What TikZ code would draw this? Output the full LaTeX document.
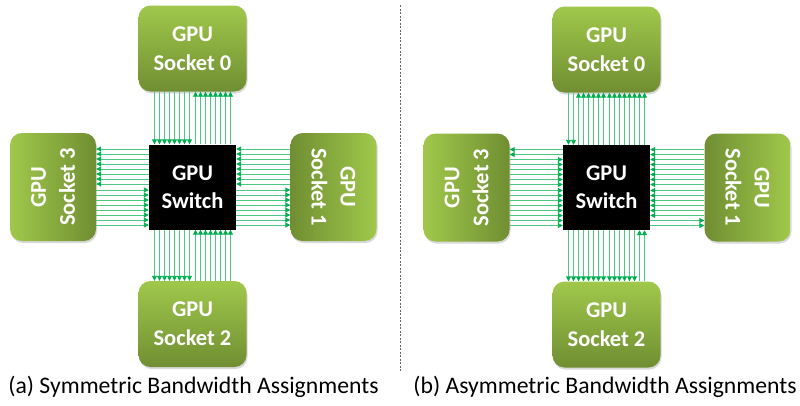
\documentclass[tikz,border=0pt]{standalone}
\usepackage{fontspec}
\setmainfont{Carlito}
\usetikzlibrary{arrows.meta,shadows}
\definecolor{socktop}{RGB}{160,200,75}
\definecolor{sockbot}{RGB}{112,142,50}
\definecolor{linkgreen}{RGB}{0,176,80}
\tikzset{
  socket/.style={rounded corners=12pt, top color=socktop, bottom color=sockbot,
    text=white, font=\fontsize{22.5}{29}\selectfont\bfseries, align=center,
    minimum width=108pt, minimum height=86pt, inner sep=0pt,
    drop shadow={shadow xshift=1pt, shadow yshift=-2pt, opacity=0.3}},
  lsocket/.style={socket, rotate=90, left color=socktop, right color=sockbot},
  rsocket/.style={socket, rotate=-90, left color=sockbot, right color=socktop},
  gpuswitch/.style={fill=black, text=white, font=\fontsize{22.5}{28}\selectfont\bfseries,
    align=center, minimum width=87pt, minimum height=85pt, inner sep=0pt},
  link/.style={draw=linkgreen!70, line width=0.9pt,
    -{Triangle[length=5pt,width=5pt,color=linkgreen,fill=linkgreen]}},
  caption/.style={font=\fontsize{23.7}{27}\selectfont}
}
\begin{document}
\begin{tikzpicture}[x=1pt,y=-1pt]
\useasboundingbox (0,0) rectangle (800,405);
\node[socket] (a0) at (192.5,48.5) {GPU\\Socket 0};
\node[lsocket] (a3) at (53,187) {GPU\\Socket 3};
\node[rsocket] (a1) at (333.5,187) {GPU\\Socket 1};
\node[socket] (a2) at (192.5,324) {GPU\\Socket 2};
\node[gpuswitch] (as) at (192.5,187) {GPU\\Switch};
\foreach \o in {-38,-33,...,-3}{
  \draw[link] ([xshift=\o pt]as.north |- a0.south) -- ([xshift=\o pt]as.north);
  \draw[link] ([xshift=\o pt]as.south) -- ([xshift=\o pt]as.south |- a2.north);
}
\foreach \o in {3,8,...,38}{
  \draw[link] ([xshift=\o pt]as.north) -- ([xshift=\o pt]as.north |- a0.south);
  \draw[link] ([xshift=\o pt]as.south |- a2.north) -- ([xshift=\o pt]as.south);
}
\foreach \o in {38,33,...,3}{
  \draw[link] ([yshift=\o pt]as.west) -- ([yshift=\o pt]as.west -| a3.south);
  \draw[link] ([yshift=\o pt]as.east -| a1.south) -- ([yshift=\o pt]as.east);
}
\foreach \o in {-3,-8,...,-38}{
  \draw[link] ([yshift=\o pt]as.west -| a3.south) -- ([yshift=\o pt]as.west);
  \draw[link] ([yshift=\o pt]as.east) -- ([yshift=\o pt]as.east -| a1.south);
}
\node[caption] (capa) at (193.5,387) {(a) Symmetric Bandwidth Assignments};
\draw[gray!80!black, line width=0.6pt, dash pattern=on 2pt off 1.5pt] (400,5) -- (400,372);
\node[socket] (b0) at (606.5,49.5) {GPU\\Socket 0};
\node[lsocket] (b3) at (466.5,187.5) {GPU\\Socket 3};
\node[rsocket] (b1) at (747.5,187.5) {GPU\\Socket 1};
\node[socket] (b2) at (606.5,324.5) {GPU\\Socket 2};
\node[gpuswitch] (bs) at (606.5,187.5) {GPU\\Switch};
\foreach \o in {-38,-33}
  \draw[link] ([xshift=\o pt]bs.north |- b0.south) -- ([xshift=\o pt]bs.north);
\foreach \o in {-28,-23,...,-3,3,8,...,38}
  \draw[link] ([xshift=\o pt]bs.north) -- ([xshift=\o pt]bs.north |- b0.south);
\foreach \o in {-38,-33,...,-3,3,8,...,28}
  \draw[link] ([xshift=\o pt]bs.south) -- ([xshift=\o pt]bs.south |- b2.north);
\foreach \o in {33,38}
  \draw[link] ([xshift=\o pt]bs.south |- b2.north) -- ([xshift=\o pt]bs.south);
\foreach \o in {38,33}
  \draw[link] ([yshift=\o pt]bs.west) -- ([yshift=\o pt]bs.west -| b3.south);
\foreach \o in {28,23,...,3,-3,-8,...,-38}
  \draw[link] ([yshift=\o pt]bs.west -| b3.south) -- ([yshift=\o pt]bs.west);
\foreach \o in {38,33,...,3,-3,-8,...,-28}
  \draw[link] ([yshift=\o pt]bs.east -| b1.south) -- ([yshift=\o pt]bs.east);
\foreach \o in {-33,-38}
  \draw[link] ([yshift=\o pt]bs.east) -- ([yshift=\o pt]bs.east -| b1.south);
\node[caption] (capb) at (605,387) {(b) Asymmetric Bandwidth Assignments};
\end{tikzpicture}
\end{document}
